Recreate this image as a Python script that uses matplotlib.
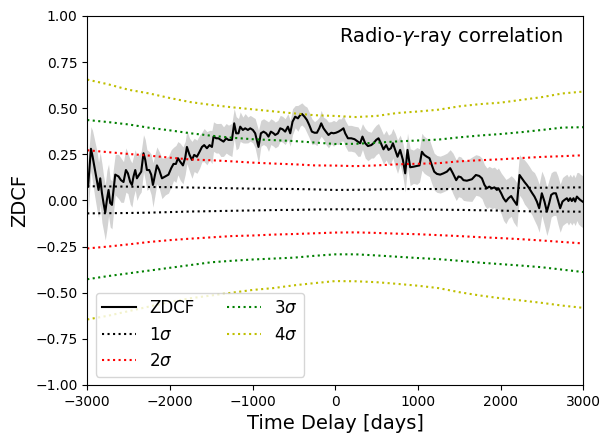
import numpy as np
import matplotlib
matplotlib.use("Agg")
import matplotlib.pyplot as plt

# ZDCF points (time lag in days, coefficient, error)
lag = np.array([
    -2990, -2955, -2936, -2912, -2883, -2863, -2843, -2822, -2803, -2782,
    -2762, -2742, -2722, -2701, -2682, -2661, -2621, -2592, -2561, -2532,
    -2508, -2480, -2459, -2440, -2419, -2399, -2371, -2347, -2319, -2298,
    -2278, -2250, -2226, -2205, -2177, -2157, -2129, -2096, -2056, -2017,
    -1984, -1956, -1927, -1903, -1875, -1842, -1815, -1794, -1762, -1733,
    -1706, -1673, -1641, -1612, -1585, -1552, -1520, -1491, -1472, -1439,
    -1412, -1383, -1351, -1319, -1291, -1250, -1222, -1198, -1170, -1149,
    -1117, -1089, -1056, -1028, -996, -968, -928, -899, -867, -835,
    -807, -778, -746, -726, -693, -665, -637, -605, -572, -544,
    -516, -484, -451, -423, -403, -371, -342, -314, -282, -250,
    -221, -193, -169, -141, -112, -81, -48, -20, 9, 40,
    73, 100, 121, 154, 194, 234, 275, 302, 330, 363,
    396, 436, 463, 496, 524, 553, 584, 617, 645, 674,
    698, 726, 754, 786, 819, 847, 875, 907, 947, 988,
    1020, 1049, 1077, 1109, 1141, 1170, 1198, 1230, 1270, 1310,
    1351, 1391, 1424, 1464, 1492, 1521, 1552, 1593, 1654, 1702,
    1742, 1775, 1806, 1835, 1863, 1896, 1927, 1956, 1975, 2008,
    2036, 2065, 2096, 2129, 2157, 2198, 2230, 2259, 2290, 2319,
    2347, 2380, 2411, 2440, 2468, 2500, 2532, 2561, 2589, 2613,
    2641, 2670, 2694, 2722, 2750, 2774, 2803, 2822, 2843, 2863,
    2883, 2903, 2924, 2943, 2964, 2992,
])
zdcf = np.array([
    0.075, 0.28, 0.24, 0.18, 0.11, 0.057, 0.12, 0.04, -0.014, -0.065,
    0.003, 0.057, -0.014, -0.024, 0.057, 0.14, 0.13, 0.11, 0.10, 0.165,
    0.147, 0.10, 0.084, 0.13, 0.165, 0.12, 0.14, 0.156, 0.256, 0.22,
    0.165, 0.165, 0.14, 0.084, 0.147, 0.19, 0.165, 0.12, 0.13, 0.14,
    0.175, 0.198, 0.198, 0.229, 0.21, 0.19, 0.23, 0.29, 0.247, 0.22,
    0.247, 0.237, 0.264, 0.29, 0.30, 0.283, 0.30, 0.29, 0.346, 0.337,
    0.337, 0.328, 0.319, 0.337, 0.328, 0.328, 0.418, 0.364, 0.364, 0.40,
    0.382, 0.391, 0.382, 0.391, 0.382, 0.364, 0.29, 0.364, 0.373, 0.364,
    0.346, 0.373, 0.364, 0.355, 0.364, 0.391, 0.386, 0.373, 0.40, 0.364,
    0.427, 0.454, 0.445, 0.463, 0.469, 0.454, 0.436, 0.409, 0.373, 0.367,
    0.367, 0.391, 0.418, 0.391, 0.373, 0.355, 0.367, 0.364, 0.367, 0.373,
    0.382, 0.391, 0.364, 0.337, 0.337, 0.332, 0.319, 0.31, 0.346, 0.31,
    0.295, 0.30, 0.31, 0.328, 0.337, 0.31, 0.277, 0.30, 0.274, 0.283,
    0.31, 0.274, 0.237, 0.274, 0.22, 0.147, 0.274, 0.18, 0.183, 0.187,
    0.19, 0.264, 0.247, 0.237, 0.229, 0.19, 0.156, 0.144, 0.14, 0.147,
    0.156, 0.175, 0.147, 0.11, 0.13, 0.126, 0.11, 0.107, 0.115, 0.138,
    0.133, 0.12, 0.084, 0.066, 0.075, 0.066, 0.071, 0.057, 0.066, 0.039,
    0.012, -0.006, 0.012, 0.024, 0.003, -0.024, 0.138, 0.12, 0.10, 0.084,
    0.066, 0.042, 0.021, -0.006, -0.042, 0.039, -0.006, -0.06, -0.015, 0.03,
    0.039, 0.039, 0.003, -0.042, -0.006, 0.003, 0.012, -0.003, 0.012, -0.003,
    0.012, -0.006, 0.021, 0.012, 0.003, -0.006,
])
zdcf_err = np.array([
    0.15, 0.12, 0.14, 0.15, 0.16, 0.15, 0.14, 0.16, 0.15, 0.15,
    0.16, 0.14, 0.13, 0.13, 0.12, 0.11, 0.12, 0.12, 0.11, 0.12,
    0.11, 0.12, 0.12, 0.11, 0.11, 0.12, 0.11, 0.11, 0.10, 0.11,
    0.11, 0.10, 0.11, 0.12, 0.11, 0.10, 0.10, 0.11, 0.10, 0.10,
    0.10, 0.09, 0.10, 0.09, 0.10, 0.10, 0.09, 0.09, 0.09, 0.10,
    0.09, 0.09, 0.09, 0.08, 0.09, 0.09, 0.08, 0.09, 0.08, 0.08,
    0.08, 0.09, 0.08, 0.08, 0.08, 0.09, 0.08, 0.09, 0.08, 0.08,
    0.07, 0.08, 0.07, 0.07, 0.07, 0.08, 0.09, 0.07, 0.07, 0.07,
    0.08, 0.07, 0.07, 0.07, 0.07, 0.07, 0.07, 0.07, 0.07, 0.07,
    0.07, 0.06, 0.07, 0.06, 0.06, 0.06, 0.07, 0.07, 0.07, 0.06,
    0.07, 0.06, 0.07, 0.06, 0.07, 0.07, 0.06, 0.07, 0.06, 0.07,
    0.06, 0.07, 0.07, 0.07, 0.07, 0.07, 0.08, 0.07, 0.07, 0.08,
    0.08, 0.07, 0.08, 0.08, 0.08, 0.08, 0.08, 0.08, 0.08, 0.08,
    0.08, 0.09, 0.09, 0.08, 0.09, 0.10, 0.09, 0.10, 0.09, 0.10,
    0.09, 0.10, 0.10, 0.10, 0.10, 0.10, 0.10, 0.10, 0.10, 0.10,
    0.10, 0.10, 0.11, 0.11, 0.11, 0.11, 0.11, 0.11, 0.12, 0.11,
    0.11, 0.11, 0.11, 0.11, 0.11, 0.11, 0.11, 0.11, 0.11, 0.11,
    0.12, 0.12, 0.11, 0.11, 0.12, 0.12, 0.11, 0.11, 0.12, 0.12,
    0.12, 0.12, 0.13, 0.13, 0.13, 0.12, 0.13, 0.13, 0.13, 0.12,
    0.12, 0.12, 0.13, 0.13, 0.13, 0.13, 0.13, 0.13, 0.13, 0.13,
    0.13, 0.13, 0.13, 0.14, 0.14, 0.14,
])

# significance levels from simulations
sig_lag = np.arange(-3000, 3001, 250)
sig1_up = [0.077, 0.076, 0.075, 0.073, 0.072, 0.070, 0.068, 0.066, 0.064, 0.063, 0.062, 0.060, 0.057,
           0.058, 0.060, 0.062, 0.062, 0.062, 0.062, 0.064, 0.066, 0.068, 0.069, 0.070, 0.071]
sig1_lo = [-0.070, -0.069, -0.068, -0.066, -0.063, -0.060, -0.058, -0.056, -0.054, -0.052, -0.051, -0.049, -0.048,
           -0.048, -0.048, -0.048, -0.048, -0.050, -0.051, -0.053, -0.055, -0.058, -0.060, -0.060, -0.061]
sig2_up = [0.272, 0.262, 0.252, 0.243, 0.232, 0.222, 0.218, 0.212, 0.205, 0.200, 0.196, 0.190, 0.189,
           0.186, 0.190, 0.196, 0.199, 0.202, 0.212, 0.218, 0.223, 0.230, 0.236, 0.240, 0.245]
sig2_lo = [-0.260, -0.250, -0.238, -0.225, -0.215, -0.207, -0.200, -0.193, -0.190, -0.185, -0.182, -0.178, -0.174,
           -0.173, -0.176, -0.180, -0.183, -0.188, -0.193, -0.199, -0.204, -0.210, -0.217, -0.225, -0.233]
sig3_up = [0.436, 0.425, 0.412, 0.394, 0.380, 0.364, 0.351, 0.340, 0.332, 0.327, 0.322, 0.314, 0.306,
           0.307, 0.313, 0.320, 0.325, 0.330, 0.342, 0.352, 0.360, 0.370, 0.382, 0.395, 0.397]
sig3_lo = [-0.427, -0.410, -0.395, -0.380, -0.365, -0.350, -0.335, -0.327, -0.320, -0.315, -0.310, -0.300, -0.292,
           -0.292, -0.298, -0.305, -0.312, -0.318, -0.327, -0.337, -0.345, -0.353, -0.362, -0.375, -0.388]
sig4_up = [0.655, 0.630, 0.600, 0.580, 0.555, 0.533, 0.518, 0.505, 0.494, 0.483, 0.472, 0.462, 0.458,
           0.452, 0.458, 0.474, 0.482, 0.492, 0.510, 0.522, 0.530, 0.545, 0.560, 0.580, 0.590]
sig4_lo = [-0.645, -0.625, -0.600, -0.575, -0.550, -0.530, -0.515, -0.500, -0.485, -0.475, -0.460, -0.448, -0.437,
           -0.438, -0.443, -0.452, -0.462, -0.475, -0.497, -0.515, -0.530, -0.542, -0.555, -0.570, -0.582]

fig = plt.figure(figsize=(6.1, 4.43), dpi=100)
ax = fig.add_axes([0.143, 0.131, 0.813, 0.833])

ax.fill_between(lag, zdcf - zdcf_err, zdcf + zdcf_err, color='lightgray', lw=0)
ax.plot(lag, zdcf, 'k-', lw=1.5, label='ZDCF')

levels = [(sig1_up, sig1_lo, 'k', r'1$\sigma$'),
          (sig2_up, sig2_lo, 'r', r'2$\sigma$'),
          (sig3_up, sig3_lo, 'g', r'3$\sigma$'),
          (sig4_up, sig4_lo, 'y', r'4$\sigma$')]
for up, lo, c, lab in levels:
    ax.plot(sig_lag, up, ':', color=c, lw=1.5, label=lab)
    ax.plot(sig_lag, lo, ':', color=c, lw=1.5)

ax.set_xlim(-3000, 3000)
ax.set_ylim(-1, 1)
ax.set_xlabel('Time Delay [days]', fontsize=14)
ax.set_ylabel('ZDCF', fontsize=14)
ax.text(0.96, 0.975, r'Radio-$\gamma$-ray correlation', transform=ax.transAxes,
        ha='right', va='top', fontsize=14)
ax.legend(loc='lower left', ncol=2, fontsize=12)

fig.savefig('out.png', dpi=100)
